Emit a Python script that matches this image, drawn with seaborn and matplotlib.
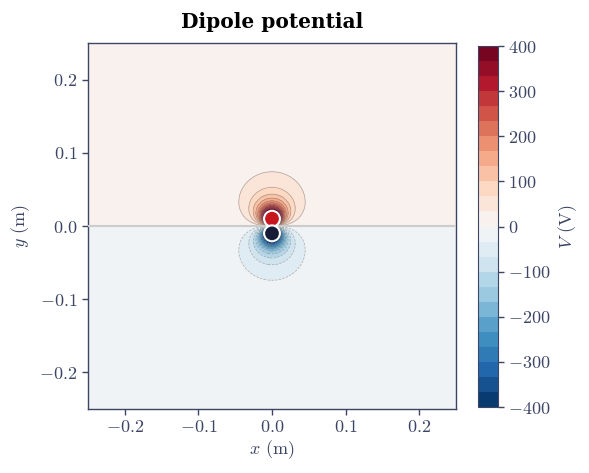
import numpy as np
import matplotlib
matplotlib.use("Agg")
import matplotlib.pyplot as plt
import seaborn as sns

sns.set_style("white")
plt.rcParams["font.family"] = ["cmr10", "DejaVu Serif"]
plt.rcParams["mathtext.fontset"] = "cm"
plt.rcParams["axes.formatter.use_mathtext"] = True
plt.rcParams["axes.unicode_minus"] = True

# charges: (x, y, q) in m and C
charge_x = [0.0, 0.0]
charge_y = [0.01, -0.01]
charge_q = [1e-9, -1e-9]
charge_colors = ["#c8161e", "#161c36"]
k_e = 8.99e9

v_min, v_max = -400, 400
n_levels = 25
x_ticks = [-0.2, -0.1, 0.0, 0.1, 0.2]
y_ticks = [-0.2, -0.1, 0.0, 0.1, 0.2]
cbar_ticks = [-400, -300, -200, -100, 0, 100, 200, 300, 400]

ink = "#3c4564"

xs = np.linspace(-0.25, 0.25, 601)
ys = np.linspace(-0.25, 0.25, 601)
X, Y = np.meshgrid(xs, ys)
V = np.zeros_like(X)
for cx, cy, q in zip(charge_x, charge_y, charge_q):
    r = np.hypot(X - cx, Y - cy)
    r = np.maximum(r, 1e-4)
    V += k_e * q / r
V = np.clip(V, v_min, v_max)
levels = np.linspace(v_min, v_max, n_levels)

fig = plt.figure(figsize=(5.89, 4.73), dpi=100)
ax = fig.add_axes([0.1494, 0.1353, 0.6248, 0.7737])
cax = fig.add_axes([0.8115, 0.1395, 0.034, 0.7632])

cf = ax.contourf(X, Y, V, levels=levels, cmap="RdBu_r")
ax.contour(X, Y, V, levels=levels[1:-1], colors="#777777", linewidths=0.5, alpha=0.6)
ax.axhline(0, color="#cccccc", lw=1.5, zorder=3)
sns.scatterplot(x=charge_x, y=charge_y, hue=[0, 1], palette=charge_colors, s=130,
                edgecolor="white", linewidth=1.5, legend=False, ax=ax, zorder=5)

ax.set_xlim(-0.25, 0.25)
ax.set_ylim(-0.25, 0.25)
ax.set_xticks(x_ticks)
ax.set_yticks(y_ticks)
ax.set_xlabel("$x$ (m)", fontsize=13, color=ink, labelpad=2)
ax.set_ylabel("$y$ (m)", fontsize=13, color=ink, labelpad=5)
ax.set_title("Dipole potential", fontsize=14.5, fontweight="bold",
             family="DejaVu Serif", color="black", pad=11)
ax.tick_params(colors=ink, labelsize=13, length=4, width=1, left=True, bottom=True)
for s in ax.spines.values():
    s.set_color(ink)
    s.set_linewidth(1)

cb = fig.colorbar(cf, cax=cax, ticks=cbar_ticks)
cb.set_label("$V$ (V)", fontsize=13, color=ink, labelpad=4)
cb.ax.tick_params(colors=ink, labelsize=13, length=4, width=1)
cb.outline.set_edgecolor(ink)

fig.savefig("out.png", dpi=100)
